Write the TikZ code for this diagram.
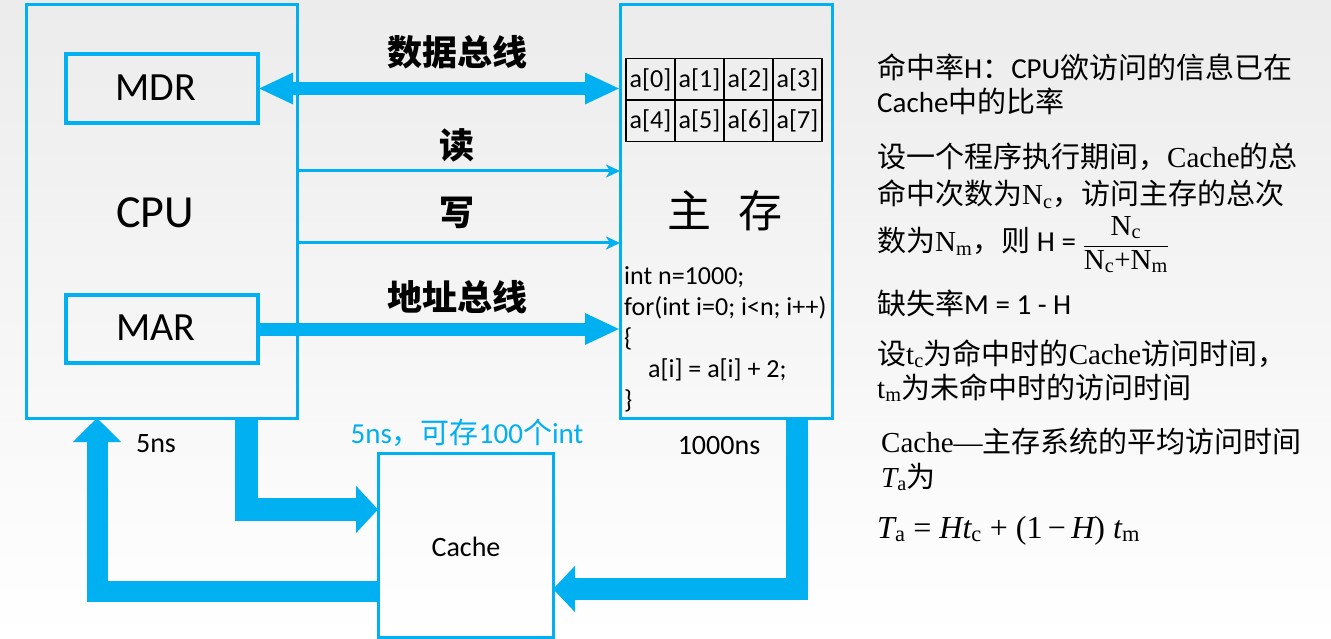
\documentclass[tikz,border=0pt]{standalone}
\usepackage{fontspec}
\setmainfont{Carlito}
\newfontfamily\tms{Liberation Serif}
\newfontfamily\cjk{Noto Sans CJK SC}
\usetikzlibrary{arrows.meta,calc}
\definecolor{cblue}{HTML}{00B0F0}
\newcommand\zh[1]{{\cjk #1}}
\newcommand\fs[1]{\fontsize{#1}{#1}\selectfont}
\tikzset{
  bighead/.tip={Triangle[length=35pt,width=29pt]},
  headA/.tip={Triangle[length=22pt,width=46pt]},
  headB/.tip={Triangle[length=24pt,width=47pt]},
  headC/.tip={Triangle[length=22pt,width=45pt]},
  smallhead/.tip={Stealth[length=14pt,width=13pt,inset=4pt]},
  box/.style={draw=cblue, line width=3pt, inner sep=0pt, outer sep=0pt},
  bus/.style={draw=cblue, line width=#1, line join=miter},
  lbl/.style={inner sep=0pt, text=black},
  cell/.style={draw=black, line width=1.5pt, minimum width=49pt, minimum height=41.5pt, inner sep=0pt, font=\fs{26}},
  rt/.style={inner sep=0pt, anchor=base west, font=\fs{29}},
  code/.style={inner sep=0pt, anchor=base west, font=\fs{26}},
}
\begin{document}
\begin{tikzpicture}[x=1pt,y=-1pt]
\useasboundingbox (0,0) rectangle (1331,639);
\fill[top color=gray!15, bottom color=white] (0,0) rectangle (1331,639);

% boxes
\node[box, minimum width=271pt, minimum height=413pt] (cpu) at (161.5,211.5) {};
\node[box, line width=3.5pt, minimum width=192pt, minimum height=69pt] (mdr) at (162,88.5) {};
\node[box, line width=3.5pt, minimum width=192pt, minimum height=68pt] (mar) at (162,329) {};
\node[box, minimum width=212pt, minimum height=413pt] (mem) at (726,211.5) {};
\node[box, minimum width=175pt, minimum height=184pt] (cache) at (465.5,545) {};

\node[lbl, font=\fs{40}] (tmdr) at (156,88) {MDR};
\node[lbl, font=\fs{40}] (tmar) at (156,328) {MAR};
\node[lbl, font=\fs{46}] (tcpu) at (155,213) {CPU};
\node[lbl, font=\fs{28}] (tcache) at (466,547) {Cache};

% array cells
\foreach \i in {0,...,7}{
  \pgfmathsetmacro\cx{650.5+49*mod(\i,4)}
  \pgfmathsetmacro\cy{79.5+41.5*int(\i/4)}
  \node[cell] (cell\i) at (\cx,\cy) {a[\i]};
}
\node[lbl, font=\cjk\fs{44}] (tmem) at (725,211) {主\hspace{0.6em}存};

% code
\node[code] (code1) at (624,284) {int n=1000;};
\node[code] (code2) at (624,315) {for(int i=0; i<n; i++)};
\node[code] (code3) at (624,346) {\{};
\node[code] (code4) at (648,377) {a[i] = a[i] + 2;};
\node[code] (code5) at (624,408) {\}};

% buses
\coordinate (rd) at (0,171);
\coordinate (wr) at (0,243);
\draw[bus=13pt, bighead-bighead] (mdr.east) -- (mdr.east -| mem.west);
\draw[bus=13pt, -bighead] (mar.east) -- (mar.east -| mem.west);
\draw[bus=3pt, -smallhead] (cpu.east |- rd) -- (mem.west |- rd);
\draw[bus=3pt, -smallhead] (cpu.east |- wr) -- (mem.west |- wr);

\node[lbl, font=\cjk\bfseries\fs{35}] (ldata) at (457,52) {数据总线};
\node[lbl, font=\cjk\bfseries\fs{35}] (lread) at (457,145) {读};
\node[lbl, font=\cjk\bfseries\fs{35}] (lwrite) at (457,213) {写};
\node[lbl, font=\cjk\bfseries\fs{35}] (laddr) at (457,297) {地址总线};

% bottom paths
\coordinate (ax) at (246.5,509.5);
\coordinate (bx) at (97,591);
\coordinate (cx) at (797,589);
\draw[bus=23pt, -headA] (cpu.south -| ax) -- (ax) -- (cache.west |- ax);
\draw[bus=21pt, -headB] (cache.west |- bx) -- (bx) -- (cpu.south -| bx);
\draw[bus=22pt, -headC] (mem.south -| cx) -- (cx) -- (cache.east |- cx);

\node[lbl, font=\fs{28}] (t5ns) at (156,444) {5ns};
\node[lbl, font=\fs{28}] (t1000) at (719,446) {1000ns};
\node[inner sep=0pt, text=cblue, font=\fs{29}] (tcinfo) at (467,433) {5ns\zh{，可存}100\zh{个}int};

% right text
\node[rt] (r1) at (877,79) {\zh{命中率}H\zh{：}CPU\zh{欲访问的信息已在}};
\node[rt] (r2) at (877,113) {Cache\zh{中的比率}};
\node[rt] (r3) at (877,168) {\zh{设一个程序执行期间，}{\tms Cache}\zh{的总}};
\node[rt] (r4) at (877,205) {\zh{命中次数为}{\tms N\textsubscript{c}}\zh{，访问主存的总次}};
\node[rt] (r5) at (877,252) {\zh{数为}{\tms N\textsubscript{m}}\zh{，则} H = $\displaystyle\frac{\hbox{\tms N\textsubscript{c}}}{\hbox{\tms N\textsubscript{c}+N\textsubscript{m}}}$};
\node[rt] (r6) at (877,314) {\zh{缺失率}M = 1 - H};
\node[rt] (r7) at (877,364) {\zh{设}{\tms t\textsubscript{c}}\zh{为命中时的}{\tms Cache}\zh{访问时间，}};
\node[rt] (r8) at (877,398) {{\tms t\textsubscript{m}}\zh{为未命中时的访问时间}};
\node[rt] (r9) at (881,452) {{\tms Cache—}\zh{主存系统的平均访问时间}};
\node[rt] (r10) at (881,487) {{\tms\itshape T\textsubscript{\upshape a}}\zh{为}};
\node[rt, font=\fs{32}] (r11) at (877,538) {\tms\itshape T\textsubscript{\upshape a} \upshape= \itshape Ht\textsubscript{\upshape c} \upshape+ (1\,−\,\itshape H\upshape) \itshape t\textsubscript{\upshape m}};
\end{tikzpicture}
\end{document}
